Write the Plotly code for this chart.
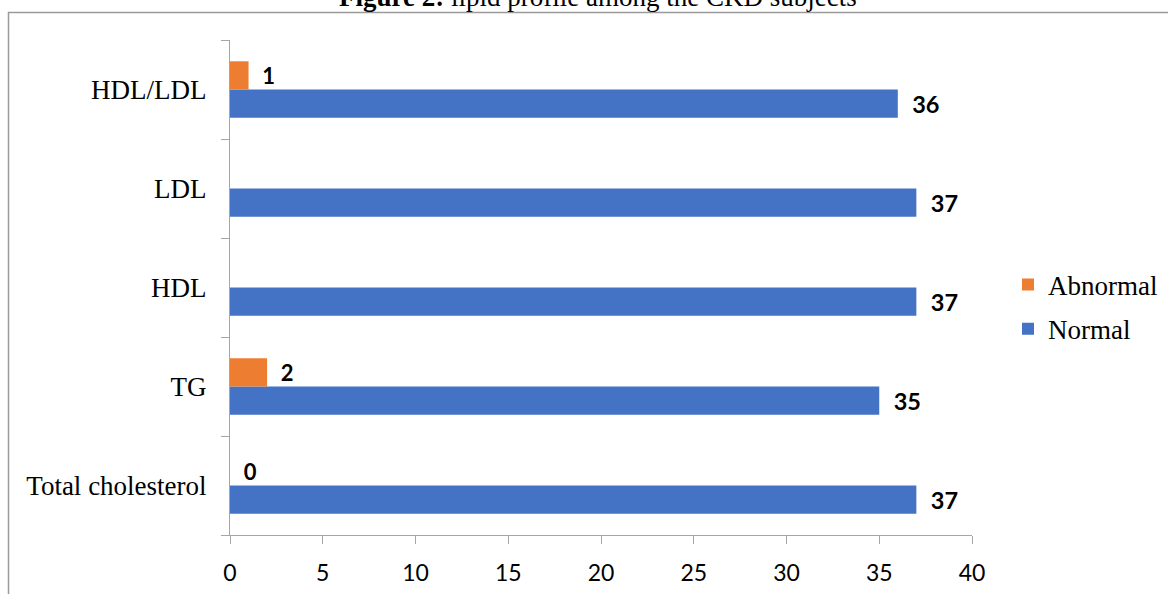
import plotly.graph_objects as go

categories = ["Total cholesterol", "TG", "HDL", "LDL", "HDL/LDL"]
normal = [37, 35, 37, 37, 36]
abnormal = [0, 2, None, None, 1]
x_ticks = [0, 5, 10, 15, 20, 25, 30, 35, 40]

BLUE = "#4472C4"
ORANGE = "#ED7D31"
NB = "\u00a0"

def labels(vals, pad):
    return [None if v is None else NB * pad + str(v) for v in vals]

fig = go.Figure()
fig.add_trace(go.Bar(
    y=categories, x=normal, orientation="h", name="Normal",
    legendgroup="n", legendrank=2,
    marker=dict(color=BLUE, line=dict(width=0)),
    text=labels(normal, 2), textposition="outside", cliponaxis=False,
    textfont=dict(family="Lato", size=25, color="black", weight="bold"),
))
fig.add_trace(go.Bar(
    y=categories, x=abnormal, orientation="h", name="Abnormal",
    legendgroup="a", legendrank=1,
    marker=dict(color=ORANGE, line=dict(width=0)),
    text=labels(abnormal, 2), textposition="outside", cliponaxis=False,
    textfont=dict(family="Lato", size=22, color="black", weight="bold"),
))

fig.update_layout(
    width=1168, height=594,
    margin=dict(l=230, r=196, t=40, b=59, autoexpand=False),
    paper_bgcolor="white", plot_bgcolor="white",
    barmode="group", bargap=0.43, bargroupgap=0,
    showlegend=True,
    legend=dict(
        x=(1008 - 230) / 742, y=(535 - 307) / 495, xanchor="left", yanchor="middle",
        traceorder="grouped", tracegroupgap=6,
        font=dict(family="Liberation Serif", size=27, color="black"),
        itemwidth=30,
    ),
    xaxis=dict(
        range=[0, 40], tickvals=x_ticks,
        showgrid=False, zeroline=False,
        showline=True, linecolor="#a6a6a6", linewidth=1,
        ticks="outside", ticklen=8, tickcolor="#a6a6a6",
        tickfont=dict(family="Lato", size=23, color="black"),
        ticklabelstandoff=9, automargin=False,
    ),
    yaxis=dict(
        type="category", categoryorder="array", categoryarray=categories,
        showgrid=False, zeroline=False,
        showline=True, linecolor="#a6a6a6", linewidth=1,
        ticks="outside", ticklen=8, tickcolor="#a6a6a6", tickson="boundaries",
        tickfont=dict(family="Liberation Serif", size=27, color="black"),
        ticklabelstandoff=17, automargin=False,
    ),
    shapes=[dict(
        type="rect", xref="paper", yref="paper",
        x0=(8.5 - 230) / 742, x1=1.27,
        y0=-0.2, y1=1 + (40 - 12.5) / 495,
        line=dict(color="#9a9a9a", width=1.5), fillcolor="rgba(0,0,0,0)",
        layer="below",
    )],
    annotations=[dict(
        text="<b>Figure 2:</b> lipid profile among the CKD subjects",
        xref="paper", yref="paper", x=(598 - 230) / 742, y=1 + (40 - 14) / 495,
        xanchor="center", yanchor="bottom", showarrow=False,
        font=dict(family="Liberation Serif", size=27, color="black"),
    )],
)

fig.write_html("out.html")
